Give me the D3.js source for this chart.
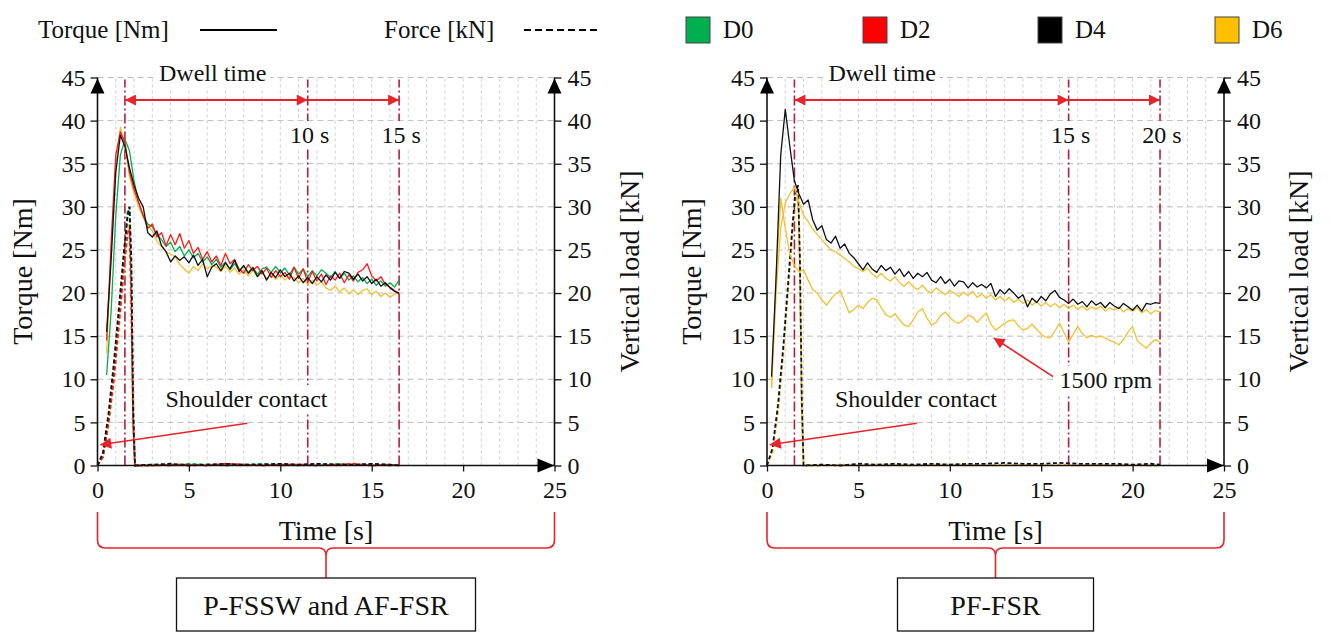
<!DOCTYPE html>
<meta charset="utf-8">
<style>
body { margin: 0; background: #fff; }
svg text { font-family: "Liberation Serif", "DejaVu Serif", serif; fill: #111; }
</style>
<svg width="1330" height="633"></svg>
<script src="https://d3js.org/d3.v7.min.js"></script>
<script>
var seriesNames = ["D0", "D2", "D4", "D6"];
var seriesColors = ["#00b050", "#ff0000", "#000000", "#ffc000"];
var xTicks = [0, 5, 10, 15, 20, 25];
var yTicks = [0, 5, 10, 15, 20, 25, 30, 35, 40, 45];
var gridSeconds = [1, 2, 3, 4, 5, 6, 7, 8, 9, 10, 11, 12, 13, 14, 15, 16, 17, 18, 19, 20, 21, 22, 23, 24];

// P-FSSW and AF-FSR : torque
var timeA = [0.5, 0.75, 1, 1.25, 1.5, 1.75, 2, 2.25,
  2.5, 2.75, 3, 3.25, 3.5, 3.75, 4, 4.25,
  4.5, 4.75, 5, 5.25, 5.5, 5.75, 6, 6.25,
  6.5, 6.75, 7, 7.25, 7.5, 7.75, 8, 8.25,
  8.5, 8.75, 9, 9.25, 9.5, 9.75, 10, 10.25,
  10.5, 10.75, 11, 11.25, 11.5, 11.75, 12, 12.25,
  12.5, 12.75, 13, 13.25, 13.5, 13.75, 14, 14.25,
  14.5, 14.75, 15, 15.25, 15.5, 15.75, 16, 16.25,
  16.5];
var torqueA_D0 = [10.5, 18, 29, 36, 37.8, 36.5, 33, 30.5,
  29, 28, 27.7, 26.8, 26.2, 25.4, 25.9, 24.8,
  25.4, 24.3, 25.0, 24.1, 24.6, 23.6, 24.2, 23.3,
  23.9, 23.0, 23.6, 22.7, 23.4, 22.6, 23.1, 22.4,
  23.0, 22.2, 22.8, 23.0, 22.4, 23.1, 22.3, 22.9,
  22.1, 23.0, 22.2, 22.8, 21.9, 22.6, 22.0, 22.7,
  22.3, 21.8, 22.5, 21.7, 22.3, 21.5, 22.0, 21.3,
  21.8, 21.1, 21.6, 20.9, 21.4, 20.8, 21.2, 20.7,
  21.5];
var torqueA_D2 = [14.5, 26, 36, 38.7, 37.5, 34, 32, 30.5,
  29, 27.5, 28, 26.5, 27, 25.5, 26.8, 25.6,
  26.9, 25.2, 26.1, 24.6, 25.3, 23.9, 24.8, 23.6,
  24.3, 23.2, 24.6, 23.4, 23.9, 22.8, 22.3, 23.3,
  22.6, 23.1, 22.2, 22.9, 21.8, 22.6, 21.9, 22.4,
  21.6, 23.0, 21.7, 22.8, 21.3, 22.5, 21.4, 22.2,
  21.0, 22.0, 21.5, 22.3, 21.2, 22.1, 21.4, 22.4,
  22.7, 23.4, 22.0, 21.4, 21.9, 21.0, 20.7, 20.3,
  19.9];
var torqueA_D4 = [15.5, 24, 34, 38.3, 37, 34.5, 32.5, 31,
  30, 27, 26.5, 27.2, 25.5, 24.8, 23.6, 24.3,
  23.8, 24.2, 23.5, 24.4, 23.2, 23.9, 21.9, 23.0,
  23.4, 22.6, 23.5, 22.8, 23.8, 22.5, 23.2, 22.3,
  22.9, 21.9, 22.6, 21.5, 22.4, 21.8, 22.7, 21.9,
  22.3, 21.4, 22.0, 21.2, 21.8, 21.1, 21.9, 21.3,
  22.1, 21.5, 22.4, 21.7, 22.5, 22.3, 21.6, 22.2,
  21.4, 21.9, 21.1, 21.6, 20.8, 21.2, 20.6, 20.2,
  20.0];
var torqueA_D6 = [13, 25, 35, 39.2, 37, 33.5, 31.5, 30,
  28.8, 27.9, 27.2, 26, 25.4, 24.8, 24.5, 24.2,
  23.3, 22.8, 22.3, 23.1, 22.6, 23.4, 22.8, 23.2,
  23.0, 22.5, 23.1, 22.4, 22.9, 22.2, 22.7, 22.0,
  22.6, 21.9, 22.4, 21.7, 22.2, 21.6, 22.1, 21.5,
  22.0, 21.8, 21.2, 21.7, 21.0, 21.5, 20.9, 21.3,
  20.6, 20.3, 20.8, 20.1, 20.6, 19.9, 20.4, 19.8,
  20.3, 20.5, 19.8, 20.2, 19.6, 20.0, 19.5, 19.9,
  20.0];

// P-FSSW and AF-FSR : force
var forceTimeA = [0, 0.3, 0.6, 0.9, 1.2, 1.45, 1.65, 1.75, 1.85, 1.95, 2.05, 3, 4, 5, 6, 7, 8, 9, 10, 11, 12, 13, 14, 15, 16, 16.5];
var forceA_D0 = [0, 1, 5, 11, 18, 24, 29.5, 30, 22, 8, 0, 0.1, 0, 0.2, 0.1, 0, 0.1, 0.2, 0.1, 0, 0.1, 0.2, 0.1, 0.1, 0, 0.1];
var forceA_D2 = [0, 1, 5, 10, 17, 23, 27, 27.5, 18, 5, 0, 0, 0.1, 0.1, 0, 0.2, 0.1, 0, 0.1, 0.1, 0, 0.1, 0.2, 0, 0.1, 0];
var forceA_D4 = [0, 1.5, 6, 12, 19, 25, 29, 30, 24, 6, 0, 0.1, 0.2, 0, 0.1, 0.2, 0.1, 0.1, 0.2, 0.1, 0.2, 0.1, 0.1, 0.2, 0.1, 0];
var forceA_D6 = [0, 1, 4.5, 10, 16.5, 22.5, 27, 28.5, 20, 4, 0, 0, 0.1, 0, 0.1, 0.1, 0, 0.1, 0, 0.1, 0.1, 0, 0.1, 0, 0.1, 0];

// PF-FSR : torque
var timeB = [0.25, 0.5, 0.75, 1, 1.25, 1.5, 1.75, 2,
  2.25, 2.5, 2.75, 3, 3.25, 3.5, 3.75, 4,
  4.25, 4.5, 4.75, 5, 5.25, 5.5, 5.75, 6,
  6.25, 6.5, 6.75, 7, 7.25, 7.5, 7.75, 8,
  8.25, 8.5, 8.75, 9, 9.25, 9.5, 9.75, 10,
  10.25, 10.5, 10.75, 11, 11.25, 11.5, 11.75, 12,
  12.25, 12.5, 12.75, 13, 13.25, 13.5, 13.75, 14,
  14.25, 14.5, 14.75, 15, 15.25, 15.5, 15.75, 16,
  16.25, 16.5, 16.75, 17, 17.25, 17.5, 17.75, 18,
  18.25, 18.5, 18.75, 19, 19.25, 19.5, 19.75, 20,
  20.25, 20.5, 20.75, 21, 21.25, 21.5];
var torqueB_D4 = [10.3, 22, 36, 41.3, 37, 33, 31.5, 30.3,
  30.8, 28.5, 27.3, 27.8, 26.2, 25.8, 26.6, 25.2,
  25.7, 24.6, 24.1, 23.4, 22.7, 23.5, 22.8, 22.4,
  23.2, 22.6, 23.0, 22.2, 22.8, 21.9, 22.5, 21.7,
  22.3, 21.9, 22.4, 21.5, 21.2, 21.9, 21.1, 21.6,
  20.8, 21.4, 21.3, 20.6, 21.2, 20.7, 21.0, 20.6,
  21.1, 19.6, 20.4, 19.9, 20.5, 20.0, 19.4, 19.8,
  18.4, 19.4, 18.9, 19.6, 19.1, 19.9, 20.3, 19.5,
  19.2, 18.8, 19.3, 18.7, 19.0, 18.4, 19.1, 18.6,
  18.9, 18.3, 18.9, 18.5, 18.2, 18.8, 18.4, 18.0,
  18.6, 17.9, 18.8, 18.7, 18.9, 18.8];
var torqueB_D6 = [9, 20, 27.5, 30.5, 31.5, 32.3, 30.5, 29.0,
  28.3, 27.4, 26.8, 26.2, 25.6, 25.0, 24.8, 24.4,
  24.0, 23.6, 23.1, 22.8, 22.5, 22.9, 22.2, 21.8,
  22.3, 21.7, 21.4, 21.9, 21.2, 20.8, 21.3, 20.7,
  20.4, 20.9, 20.3, 20.0, 20.6, 20.2, 19.8, 20.3,
  20.0, 19.6, 20.1, 19.7, 20.2, 19.5, 19.9, 19.4,
  19.8, 19.2, 19.6, 19.1, 19.5, 18.9, 19.3, 18.8,
  19.2, 18.6, 19.0, 18.5, 18.9, 18.4, 18.8, 18.3,
  18.7, 18.2, 18.6, 18.1, 18.5, 18.0, 18.4, 18.1,
  18.5, 17.9, 18.3, 18.0, 18.4, 17.8, 18.2, 17.9,
  18.3, 17.7, 18.1, 17.6, 18.0, 17.8];
var torqueB_D6_1500 = [9, 22, 31, 27.5, 24.5, 23.2, 22.5, 22.7,
  21.5, 20.4, 20.0, 19.2, 18.6, 19.3, 19.9, 20.3,
  19.0, 17.7, 18.1, 18.6, 18.2, 18.9, 19.4, 19.2,
  18.3, 17.5, 17.2, 17.6, 16.9, 16.3, 16.1, 16.9,
  17.8, 18.2, 17.1, 16.3, 16.6, 17.4, 17.8, 17.2,
  16.7, 16.5, 16.9, 17.4, 17.2, 16.6, 17.2, 17.7,
  16.4, 15.7, 16.1, 16.5, 16.8, 16.9, 16.2, 15.7,
  15.9, 16.4, 15.8, 15.2, 14.9, 14.8, 15.6, 16.5,
  15.4, 14.3, 15.2, 16.1, 15.3, 14.8, 15.1, 14.9,
  15.0, 14.8, 14.5, 14.3, 14.0, 14.6, 15.5, 16.1,
  14.5, 14.0, 13.6, 14.2, 14.6, 14.3];

// PF-FSR : force
var forceTimeB = [0, 0.3, 0.6, 0.9, 1.15, 1.4, 1.55, 1.7, 1.8, 1.9, 2.0, 3, 4, 5, 6, 7, 8, 9, 10, 11, 12, 13, 14, 15, 16, 17, 18, 19, 20, 21, 21.5];
var forceB_D4 = [0, 2, 7, 14, 21, 28, 31.5, 32.5, 24, 8, 0, 0.1, 0, 0.2, 0.1, 0.2, 0.1, 0.2, 0.1, 0.2, 0.2, 0.3, 0.2, 0.2, 0.3, 0.2, 0.2, 0.2, 0.1, 0.2, 0.1];
var forceB_D6 = [0, 1.5, 6, 13, 20, 27, 30.5, 31.5, 22, 6, 0, 0, 0.1, 0, 0.1, 0.1, 0, 0.1, 0.1, 0.1, 0, 0.1, 0.1, 0, 0.1, 0, 0.1, 0, 0.1, 0, 0];

// dwell marks (s) and labels
var dwellA = [1.5, 11.5, 16.5], dwellLabelsA = ["10 s", "15 s"];
var dwellB = [1.5, 16.5, 21.5], dwellLabelsB = ["15 s", "20 s"];

var panels = [
  { x0: 97.5, title: "P-FSSW and AF-FSR", boxW: 299,
    torque: [[timeA, torqueA_D6, 3], [timeA, torqueA_D0, 0], [timeA, torqueA_D2, 1], [timeA, torqueA_D4, 2]],
    force: [[forceTimeA, forceA_D6, 3], [forceTimeA, forceA_D0, 0], [forceTimeA, forceA_D2, 1], [forceTimeA, forceA_D4, 2]],
    dwell: dwellA, dwellLabels: dwellLabelsA, rpm: false },
  { x0: 767, title: "PF-FSR", boxW: 196,
    torque: [[timeB, torqueB_D6_1500, 3], [timeB, torqueB_D6, 3], [timeB, torqueB_D4, 2]],
    force: [[forceTimeB, forceB_D6, 3], [forceTimeB, forceB_D4, 2]],
    dwell: dwellB, dwellLabels: dwellLabelsB, rpm: true }
];

var svg = d3.select("svg");
var yTop = 77.5, yBot = 465.5, plotW = 457;
var serif = '"Liberation Serif", "DejaVu Serif", serif';
var red = "#e8232a", markRed = "#b3203c";
var lineColors = ["#00b050", "#ff1a1a", "#101018", "#f2c12e"];

var defs = svg.append("defs");
defs.append("marker").attr("id", "redHead")
    .attr("viewBox", "0 0 10 10").attr("refX", 10).attr("refY", 5)
    .attr("markerUnits", "userSpaceOnUse").attr("markerWidth", 14).attr("markerHeight", 11)
    .attr("orient", "auto-start-reverse")
  .append("path").attr("d", "M0,0L10,5L0,10z").attr("fill", red);

function txt(g, x, y, s, size, anchor) {
  return g.append("text").attr("x", x).attr("y", y)
      .attr("font-family", serif).attr("font-size", size).attr("fill", "#111")
      .attr("text-anchor", anchor || "start").text(s);
}

// legend
txt(svg, 38, 38, "Torque [Nm]", 25);
svg.append("line").attr("x1", 200).attr("x2", 277).attr("y1", 30).attr("y2", 30).attr("stroke", "#000").attr("stroke-width", 2.2);
txt(svg, 384, 38, "Force [kN]", 25);
svg.append("line").attr("x1", 524).attr("x2", 601).attr("y1", 30).attr("y2", 30).attr("stroke", "#000").attr("stroke-width", 2.2).attr("stroke-dasharray", "7,4");
var legX = [686, 863, 1038, 1215];
seriesNames.forEach(function(d, i) {
  svg.append("rect").attr("x", legX[i]).attr("y", 17).attr("width", 24).attr("height", 26)
      .attr("fill", seriesColors[i]).attr("stroke", "#444").attr("stroke-width", 1);
  txt(svg, legX[i] + 37, 38, d, 25);
});

function labelBox(g, sel, pad) {
  var b = sel.node().getBBox();
  g.insert("rect", function() { return sel.node(); })
    .attr("x", b.x - pad).attr("y", b.y - 1).attr("width", b.width + 2 * pad).attr("height", b.height + 2)
    .attr("fill", "#fff");
}

panels.forEach(function(p) {
  var x = d3.scaleLinear().domain([0, 25]).range([p.x0, p.x0 + plotW]);
  var y = d3.scaleLinear().domain([0, 45]).range([yBot, yTop]);
  var x1 = x(25), cx = (p.x0 + x1) / 2;
  var g = svg.append("g");

  g.selectAll(".vg").data(gridSeconds).enter().append("line")
      .attr("x1", function(d) { return x(d); }).attr("x2", function(d) { return x(d); })
      .attr("y1", yBot).attr("y2", yTop)
      .attr("stroke", "#cfcfcf").attr("stroke-width", 1).attr("stroke-dasharray", "3,3");
  g.selectAll(".hg").data(yTicks.slice(1)).enter().append("line")
      .attr("x1", p.x0).attr("x2", x1)
      .attr("y1", function(d) { return y(d); }).attr("y2", function(d) { return y(d); })
      .attr("stroke", "#bdbdbd").attr("stroke-width", 1).attr("stroke-dasharray", "6,4");

  // dwell marks
  g.selectAll(".mk").data(p.dwell).enter().append("line")
      .attr("x1", function(d) { return x(d); }).attr("x2", function(d) { return x(d); })
      .attr("y1", yBot).attr("y2", yTop + 2)
      .attr("stroke", markRed).attr("stroke-width", 1.6).attr("stroke-dasharray", "10,3,2,3");

  // lines
  p.force.forEach(function(s) {
    var ts = s[0];
    var line = d3.line().x(function(d, i) { return x(ts[i]); }).y(function(d) { return y(d); });
    g.append("path").datum(s[1]).attr("d", line).attr("fill", "none")
        .attr("stroke", lineColors[s[2]]).attr("stroke-width", 1.8).attr("stroke-dasharray", "4,2.5");
  });
  p.torque.forEach(function(s) {
    var ts = s[0];
    var line = d3.line().x(function(d, i) { return x(ts[i]); }).y(function(d) { return y(d); });
    g.append("path").datum(s[1]).attr("d", line).attr("fill", "none")
        .attr("stroke", lineColors[s[2]]).attr("stroke-width", 1.3).attr("stroke-linejoin", "round");
  });

  // axes
  var ax = g.append("g").attr("transform", "translate(" + p.x0 + ",0)")
      .call(d3.axisLeft(y).tickValues(yTicks).tickSize(7).tickPadding(5));
  var axr = g.append("g").attr("transform", "translate(" + x1 + ",0)")
      .call(d3.axisRight(y).tickValues(yTicks).tickSize(7).tickPadding(6));
  var axb = g.append("g").attr("transform", "translate(0," + yBot + ")")
      .call(d3.axisBottom(x).tickValues(xTicks).tickSize(6).tickPadding(9));
  [ax, axr, axb].forEach(function(a) {
    a.attr("font-family", serif).attr("font-size", 24);
    a.select(".domain").remove();
    a.selectAll("line").attr("stroke", "#111").attr("stroke-width", 1.3);
    a.selectAll("text").attr("fill", "#111");
  });
  g.append("line").attr("x1", p.x0).attr("x2", p.x0).attr("y1", yBot).attr("y2", yTop).attr("stroke", "#111").attr("stroke-width", 1.6);
  g.append("line").attr("x1", x1).attr("x2", x1).attr("y1", yBot).attr("y2", yTop).attr("stroke", "#111").attr("stroke-width", 1.6);
  g.append("line").attr("x1", p.x0).attr("x2", x1).attr("y1", yBot).attr("y2", yBot).attr("stroke", "#111").attr("stroke-width", 1.6);
  [p.x0, x1].forEach(function(ax0) {
    g.append("path").attr("d", "M" + ax0 + "," + (yTop + 1) + "l-7,15h14z").attr("fill", "#000");
  });
  g.append("path").attr("d", "M" + x1 + "," + yBot + "l-17,-7v14z").attr("fill", "#000");

  // axis titles
  txt(g, 0, 0, "Torque [Nm]", 28, "middle")
      .attr("transform", "translate(" + (p.x0 - 66) + "," + ((yTop + yBot) / 2) + ") rotate(-90)");
  txt(g, 0, 0, "Vertical load [kN]", 28, "middle")
      .attr("transform", "translate(" + (x1 + 84) + "," + ((yTop + yBot) / 2) + ") rotate(-90)");
  txt(g, cx, 540, "Time [s]", 28, "middle");

  // dwell arrows and labels
  g.append("line").attr("x1", x(p.dwell[0])).attr("x2", x(p.dwell[1])).attr("y1", 100).attr("y2", 100)
      .attr("stroke", red).attr("stroke-width", 1.8)
      .attr("marker-start", "url(#redHead)").attr("marker-end", "url(#redHead)");
  g.append("line").attr("x1", x(p.dwell[1])).attr("x2", x(p.dwell[2])).attr("y1", 100).attr("y2", 100)
      .attr("stroke", red).attr("stroke-width", 1.8).attr("marker-end", "url(#redHead)");
  labelBox(g, txt(g, x(6.3), 81, "Dwell time", 24, "middle"), 4);
  p.dwellLabels.forEach(function(l, i) {
    labelBox(g, txt(g, x(p.dwell[i + 1]) + 2, 143, l, 24, "middle"), 3);
  });

  // shoulder contact
  labelBox(g, txt(g, x(8.15), 407, "Shoulder contact", 24, "middle"), 4);
  g.append("line").attr("x1", x(8.2)).attr("y1", y(4.9)).attr("x2", x(0.15)).attr("y2", y(2.4))
      .attr("stroke", red).attr("stroke-width", 1.6).attr("marker-end", "url(#redHead)");

  if (p.rpm) {
    labelBox(g, txt(g, x(16.0), 388, "1500 rpm", 24), 3);
    g.append("line").attr("x1", x(15.65)).attr("y1", y(10.3)).attr("x2", x(12.4)).attr("y2", y(14.8))
        .attr("stroke", red).attr("stroke-width", 1.6).attr("marker-end", "url(#redHead)");
  }

  // brace and box
  var b = "M" + p.x0 + ",512L" + p.x0 + ",540Q" + p.x0 + ",548 " + (p.x0 + 8) + ",548L" + (cx - 7) + ",548Q" + cx + ",548 " + cx + ",556L" + cx + ",578" +
          "M" + x1 + ",512L" + x1 + ",540Q" + x1 + ",548 " + (x1 - 8) + ",548L" + (cx + 7) + ",548Q" + cx + ",548 " + cx + ",556";
  g.append("path").attr("d", b).attr("fill", "none").attr("stroke", red).attr("stroke-width", 1.6);
  g.append("rect").attr("x", cx - p.boxW / 2).attr("y", 578).attr("width", p.boxW).attr("height", 53)
      .attr("fill", "#fff").attr("stroke", "#111").attr("stroke-width", 1.3);
  txt(g, cx, 615, p.title, 28, "middle");
});
</script>
